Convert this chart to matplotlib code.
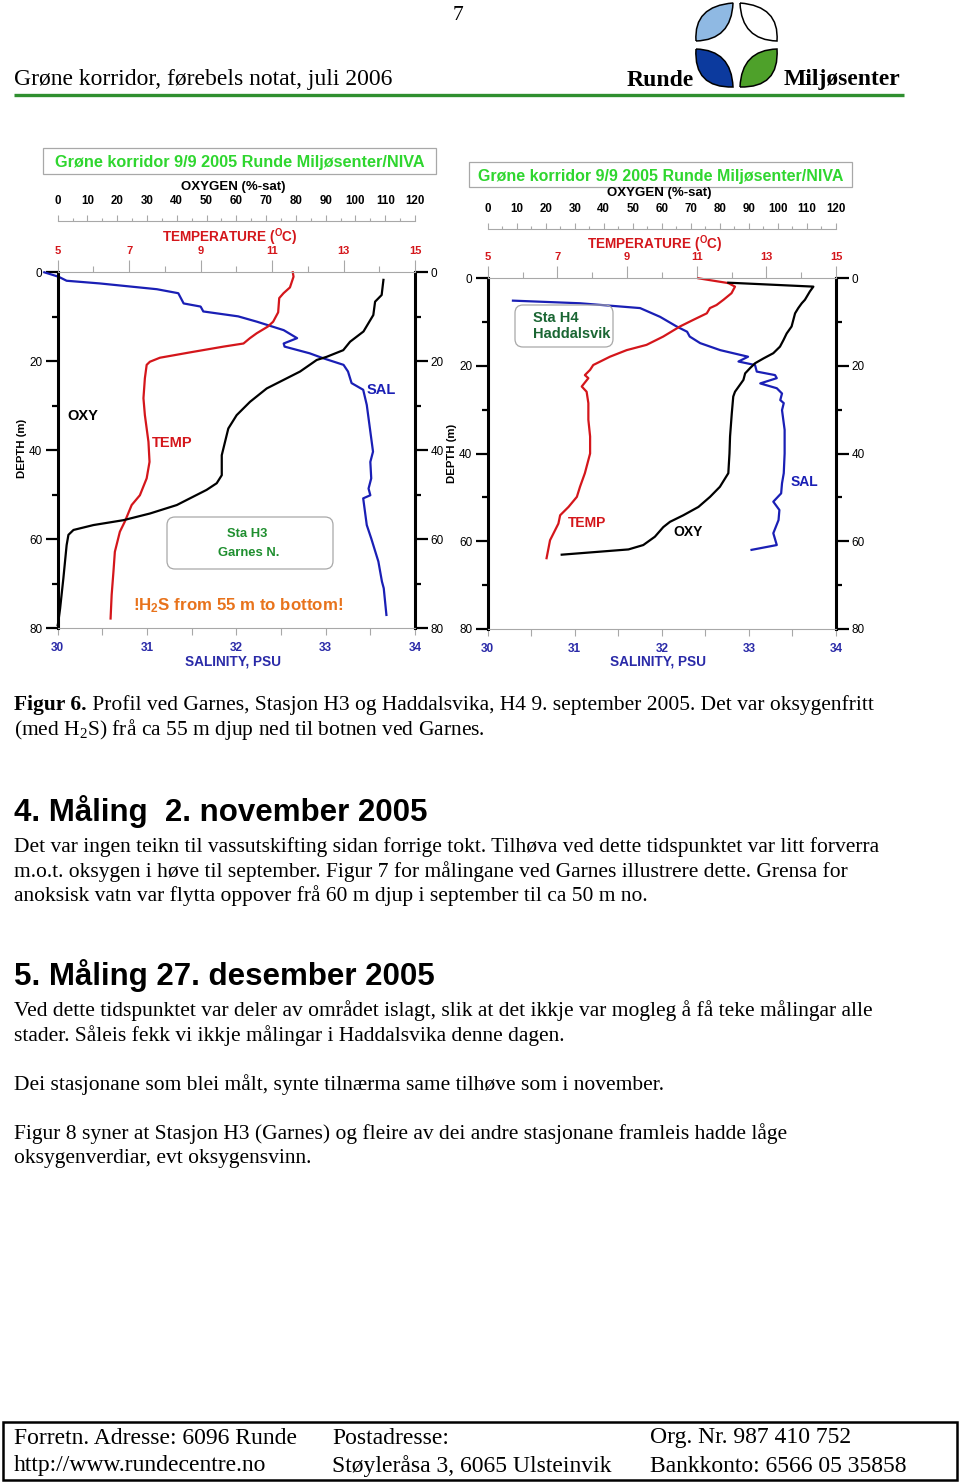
import matplotlib
matplotlib.use("Agg")
import matplotlib.pyplot as plt
from matplotlib.path import Path
from matplotlib.patches import PathPatch, FancyBboxPatch, Rectangle
from matplotlib.ticker import MultipleLocator, FixedLocator

plt.rcParams['mathtext.default'] = 'regular'
plt.rcParams['font.family'] = 'Liberation Sans'

W, H = 960, 1482
SANS = 'Liberation Sans'
SERIF = 'Liberation Serif'

RED = '#d4161b'
BLUE = '#1a1fb5'
TICKBLUE = '#2a2aa8'
GRAY = '#a8a8a8'
TITLEGREEN = '#2fd62f'
ORANGE = '#e8731c'

# ---- Sta H3 Garnes N. (9/9 2005) ----
h3_sal_depth = [0.0, 1.0, 1.9, 2.5, 3.8, 4.7, 7.0, 7.7, 8.8, 9.9, 11.1, 13.0, 14.8, 16.0, 16.7, 18.2,
                19.3, 20.8, 22.3, 24.9, 26.4, 29.8, 35.8, 40.3, 42.6, 46.3, 48.6, 50.1, 50.8, 53.8,
                56.8, 59.8, 65.0, 69.5, 71.0, 77.0]
h3_sal = [29.85, 30.01, 30.10, 30.47, 31.11, 31.35, 31.41, 31.60, 31.63, 32.02, 32.23, 32.53, 32.68,
          32.53, 32.54, 32.82, 32.97, 33.20, 33.25, 33.29, 33.42, 33.46, 33.50, 33.53, 33.50, 33.51,
          33.48, 33.50, 33.42, 33.44, 33.46, 33.51, 33.59, 33.63, 33.65, 33.68]

h3_temp_depth = [0.0, 1.0, 3.4, 4.7, 5.8, 9.0, 11.1, 12.2, 13.7, 14.8, 16.0, 16.7, 18.0, 19.2, 20.1,
                 20.8, 23.8, 28.3, 32.1, 38.1, 42.6, 46.3, 50.1, 52.3, 56.0, 58.3, 62.8, 67.3, 72.5, 77.8]
h3_temp = [11.58, 11.60, 11.50, 11.32, 11.20, 11.17, 11.03, 10.88, 10.57, 10.38, 10.20, 9.64, 8.70,
           7.86, 7.58, 7.49, 7.44, 7.40, 7.44, 7.54, 7.57, 7.49, 7.30, 7.07, 6.88, 6.74, 6.60, 6.56,
           6.51, 6.48]

h3_oxy_depth = [1.7, 5.1, 6.6, 9.6, 13.3, 15.6, 17.5, 19.0, 19.7, 22.3, 24.2, 26.1, 29.1, 32.1, 35.1,
                38.1, 41.1, 45.6, 47.4, 48.9, 50.8, 52.3, 54.2, 55.7, 56.8, 57.9, 59.0, 61.3, 68.8,
                75.6, 78.6, 79.3]
h3_oxy = [109.4, 108.8, 106.6, 106.0, 102.7, 98.2, 95.9, 90.3, 87.0, 81.4, 75.8, 70.2, 64.6, 60.1,
          57.3, 56.2, 55.1, 55.1, 53.4, 50.0, 44.4, 40.0, 31.0, 22.1, 12.0, 5.3, 3.6, 3.0, 1.9, 0.8,
          0.2, 0.0]

# ---- Sta H4 Haddalsvik (9/9 2005) ----
h4_sal_depth = [5.1, 5.7, 6.8, 8.8, 11.0, 12.2, 13.3, 14.8, 16.4, 17.9, 19.0, 19.8, 21.3, 22.1, 22.8,
                24.0, 25.1, 26.3, 27.8, 28.5, 30.1, 34.6, 40.0, 44.5, 46.8, 49.1, 51.0, 52.9, 55.2,
                58.2, 60.9, 62.0]
h4_sal = [30.29, 31.06, 31.75, 31.98, 32.17, 32.29, 32.32, 32.44, 32.67, 32.99, 32.88, 33.07, 33.09,
          33.30, 33.32, 33.13, 33.32, 33.38, 33.36, 33.40, 33.38, 33.41, 33.41, 33.40, 33.38, 33.37,
          33.28, 33.35, 33.34, 33.28, 33.32, 33.03]

h4_temp_depth = [0.0, 1.1, 1.9, 3.4, 4.9, 6.1, 6.8, 8.0, 9.5, 11.0, 13.3, 15.2, 16.4, 17.9, 19.8, 20.9,
                 22.1, 22.8, 24.7, 25.9, 28.5, 32.3, 36.1, 40.0, 44.5, 47.6, 49.9, 52.2, 54.1, 56.0,
                 59.8, 63.9]
h4_temp = [11.05, 11.91, 12.10, 12.00, 11.77, 11.57, 11.38, 11.29, 10.90, 10.52, 10.04, 9.56, 8.99,
           8.51, 8.03, 7.94, 7.79, 7.89, 7.70, 7.84, 7.89, 7.89, 7.94, 7.94, 7.79, 7.65, 7.56, 7.32,
           7.08, 7.03, 6.79, 6.69]

h4_oxy_depth = [1.0, 1.9, 3.0, 4.9, 5.7, 6.8, 8.0, 11.0, 12.6, 14.1, 15.6, 17.1, 18.3, 19.4, 20.5,
                21.7, 23.2, 25.9, 27.0, 30.8, 36.1, 40.0, 44.5, 47.6, 49.9, 52.2, 54.1, 55.6, 56.8,
                59.0, 60.9, 61.9, 63.1]
h4_oxy = [82.9, 112.2, 111.0, 109.3, 108.2, 107.0, 105.9, 104.7, 103.0, 101.9, 100.7, 98.4, 95.0,
          92.1, 90.4, 88.7, 88.1, 85.2, 84.6, 84.1, 83.5, 83.3, 82.9, 80.0, 76.6, 72.6, 67.4, 62.8,
          60.5, 57.6, 53.6, 48.5, 25.5]

temp_ticks = [5, 7, 9, 11, 13, 15]
chart_title = 'Grøne korridor 9/9 2005 Runde Miljøsenter/NIVA'

body_lines = [
    (847, 'Det var ingen teikn til vassutskifting sidan forrige tokt. Tilhøva ved dette tidspunktet var litt forverra'),
    (872, 'm.o.t. oksygen i høve til september. Figur 7 for målingane ved Garnes illustrere dette. Grensa for'),
    (896, 'anoksisk vatn var flytta oppover frå 60 m djup i september til ca 50 m no.'),
    (1011, 'Ved dette tidspunktet var deler av området islagt, slik at det ikkje var mogleg å få teke målingar alle'),
    (1036, 'stader. Såleis fekk vi ikkje målingar i Haddalsvika denne dagen.'),
    (1085, 'Dei stasjonane som blei målt, synte tilnærma same tilhøve som i november.'),
    (1134, 'Figur 8 syner at Stasjon H3 (Garnes) og fleire av dei andre stasjonane framleis hadde låge'),
    (1159, 'oksygenverdiar, evt oksygensvinn.'),
]
headings = [(811, '4. Måling  2. november 2005'), (976, '5. Måling 27. desember 2005')]
footer = [
    (14, 'Forretn. Adresse: 6096 Runde', 'http://www.rundecentre.no'),
    (332, 'Postadresse:', 'Støyleråsa 3, 6065 Ulsteinvik'),
    (650, 'Org. Nr. 987 410 752', 'Bankkonto: 6566 05 35858'),
]

BODY = 15.5

fig = plt.figure(figsize=(W / 100, H / 100), dpi=100)
page = fig.add_axes([0, 0, 1, 1], zorder=10)
page.set_xlim(0, W)
page.set_ylim(H, 0)
page.axis('off')
page.patch.set_visible(False)


def profile(x0, y0, x1, y1, oxy_gap, sal_d, sal, tmp_d, tmp, oxy_d, oxy):
    ax = fig.add_axes([x0 / W, 1 - y1 / H, (x1 - x0) / W, (y1 - y0) / H])
    ax.patch.set_visible(False)
    ax.set_xlim(30, 34)
    ax.set_ylim(80, 0)
    axt = ax.twiny()
    axt.set_xlim(5, 15)
    axo = ax.twiny()
    axo.set_xlim(0, 120)

    ax.plot(sal, sal_d, color=BLUE, lw=1.6, clip_on=False)
    axt.plot(tmp, tmp_d, color=RED, lw=1.6, clip_on=False)
    axo.plot(oxy, oxy_d, color='black', lw=1.6, clip_on=False)

    for a in (ax, axt, axo):
        for s in a.spines.values():
            s.set_visible(False)
    for side in ('left', 'right'):
        ax.spines[side].set_visible(True)
        ax.spines[side].set_linewidth(2.2)
    ax.spines['bottom'].set_visible(True)
    ax.spines['bottom'].set_color(GRAY)
    ax.spines['bottom'].set_linewidth(0.8)
    axt.spines['top'].set_visible(True)
    axt.spines['top'].set_color(GRAY)
    axt.spines['top'].set_linewidth(0.8)
    axo.spines['top'].set_visible(True)
    axo.spines['top'].set_color(GRAY)
    axo.spines['top'].set_linewidth(0.8)
    axo.spines['top'].set_position(('outward', oxy_gap * 0.72))

    # depth
    ax.yaxis.set_major_locator(MultipleLocator(20))
    ax.yaxis.set_minor_locator(MultipleLocator(10))
    ax.tick_params(axis='y', which='both', left=True, right=True, labelleft=True,
                   labelright=True, direction='out', width=1.6, labelsize=8.5, pad=2)
    ax.tick_params(axis='y', which='major', length=9)
    ax.tick_params(axis='y', which='minor', length=4.5)

    # salinity
    ax.xaxis.set_major_locator(MultipleLocator(1))
    ax.xaxis.set_minor_locator(MultipleLocator(0.5))
    ax.tick_params(axis='x', which='both', direction='out', length=5, width=0.8, color=GRAY,
                   labelsize=8.5, labelcolor=TICKBLUE, pad=5)
    plt.setp(ax.get_xticklabels(), fontweight='bold')

    # temperature
    axt.xaxis.set_major_locator(FixedLocator(temp_ticks))
    axt.xaxis.set_minor_locator(MultipleLocator(1))
    axt.tick_params(axis='x', which='both', top=True, labeltop=True, bottom=False,
                    labelbottom=False, direction='out', width=0.8, color=GRAY,
                    labelsize=8, labelcolor=RED, pad=3)
    axt.tick_params(axis='x', which='major', length=8.6)
    axt.tick_params(axis='x', which='minor', length=4.3)
    plt.setp(axt.get_xticklabels(), fontweight='bold')

    # oxygen
    axo.xaxis.set_major_locator(MultipleLocator(10))
    axo.xaxis.set_minor_locator(MultipleLocator(5))
    axo.tick_params(axis='x', which='both', top=True, labeltop=True, bottom=False,
                    labelbottom=False, direction='out', width=0.8, color=GRAY,
                    labelsize=8.3, labelcolor='black', pad=6)
    axo.tick_params(axis='x', which='major', length=4.3)
    axo.tick_params(axis='x', which='minor', length=2.2)
    plt.setp(axo.get_xticklabels(), fontweight='bold')
    return ax


profile(57.7, 272.3, 415, 628.3, 51.3, h3_sal_depth, h3_sal, h3_temp_depth, h3_temp,
        h3_oxy_depth, h3_oxy)
profile(487.7, 278.3, 836, 628.7, 49.3, h4_sal_depth, h4_sal, h4_temp_depth, h4_temp,
        h4_oxy_depth, h4_oxy)


def txt(x, y, s, **kw):
    kw.setdefault('ha', 'center')
    kw.setdefault('va', 'center')
    kw.setdefault('family', SANS)
    return page.text(x, y, s, **kw)


def box(x0, y0, x1, y1, rounded=False, ec=GRAY):
    style = 'round,pad=0,rounding_size=8' if rounded else 'square,pad=0'
    page.add_patch(FancyBboxPatch((x0, y0), x1 - x0, y1 - y0, boxstyle=style,
                                  fc='none', ec=ec, lw=0.9))


# chart annotations, left (H3)
box(43, 148, 436, 174)
txt(239.5, 162, chart_title, color=TITLEGREEN, weight='bold', size=11.7)
txt(233, 187, 'OXYGEN (%-sat)', weight='bold', size=9.5)
txt(230, 237, 'TEMPERATURE ($^{O}$C)', weight='bold', size=9.8, color=RED)
txt(233, 661, 'SALINITY, PSU', weight='bold', size=9.8, color=TICKBLUE)
txt(22, 448, 'DEPTH (m)', weight='bold', size=8.2, rotation=90)
txt(83, 416, 'OXY', weight='bold', size=10.5)
txt(172, 443, 'TEMP', weight='bold', size=10.5, color=RED)
txt(381, 390, 'SAL', weight='bold', size=10.5, color=BLUE)
box(167, 517, 333, 569, rounded=True)
txt(247, 534, 'Sta H3', weight='bold', size=9.4, color='#1f8f2f')
txt(249, 553, 'Garnes N.', weight='bold', size=9.4, color='#1f8f2f')
txt(238, 606, '!H$_2$S from 55 m to bottom!', weight='bold', size=12.2, color=ORANGE)

# chart annotations, right (H4)
box(469, 162, 852, 187)
txt(660.5, 176, chart_title, color=TITLEGREEN, weight='bold', size=11.5)
txt(659, 193, 'OXYGEN (%-sat)', weight='bold', size=9.5)
txt(655, 244, 'TEMPERATURE ($^{O}$C)', weight='bold', size=9.8, color=RED)
txt(658, 661, 'SALINITY, PSU', weight='bold', size=9.8, color=TICKBLUE)
txt(452, 453, 'DEPTH (m)', weight='bold', size=8.2, rotation=90)
txt(587, 523, 'TEMP', weight='bold', size=10, color=RED)
txt(688, 532, 'OXY', weight='bold', size=10)
txt(804, 482, 'SAL', weight='bold', size=10, color=BLUE)
box(515, 305, 613, 347, rounded=True)
txt(533, 318, 'Sta H4', weight='bold', size=10.5, color='#1a6633', ha='left')
txt(533, 334, 'Haddalsvik', weight='bold', size=10.5, color='#1a6633', ha='left')

# page header
txt(458, 16, '7', family=SERIF, size=15.5)
txt(14, 80, 'Grøne korridor, førebels notat, juli 2006', family=SERIF, size=17, ha='left')
txt(660, 80, 'Runde', family=SERIF, weight='bold', size=17)
txt(842, 80, 'Miljøsenter', family=SERIF, weight='bold', size=17)
page.plot([14, 904], [95, 95], color='#2f8f2f', lw=2.4, solid_capstyle='butt')


def leaf(tip_a, tip_b, out_pt, in_pt, fc):
    mx, my = (tip_a[0] + tip_b[0]) / 2, (tip_a[1] + tip_b[1]) / 2
    c_out = (2 * out_pt[0] - mx, 2 * out_pt[1] - my)
    c_in = (2 * in_pt[0] - mx, 2 * in_pt[1] - my)
    verts = [tip_a, c_out, tip_b, c_in, tip_a]
    codes = [Path.MOVETO, Path.CURVE3, Path.CURVE3, Path.CURVE3, Path.CURVE3]
    page.add_patch(PathPatch(Path(verts, codes), fc=fc, ec='black', lw=1.1))


leaf((696, 41), (733, 3), (704, 14), (723, 31), '#8fb9e3')
leaf((740, 3), (777, 41), (769, 14), (750, 31), 'white')
leaf((696, 49), (733, 87), (704, 78), (723, 59), '#0c3a9e')
leaf((740, 87), (777, 49), (769, 78), (750, 59), '#4ea12a')

# caption
cap = txt(14, 705, 'Figur 6.', family=SERIF, weight='bold', size=BODY, ha='left')
page.annotate(' Profil ved Garnes, Stasjon H3 og Haddalsvika, H4 9. september 2005. Det var oksygenfritt',
              xy=(1, 0), xycoords=cap, ha='left', va='bottom', family=SERIF, size=BODY)
txt(14, 730, '(med H$_2$S) frå ca 55 m djup ned til botnen ved Garnes.', family=SERIF, size=BODY,
    ha='left')

for y, s in headings:
    txt(14, y, s, weight='bold', size=22.5, ha='left')
for y, s in body_lines:
    txt(14, y, s, family=SERIF, size=BODY, ha='left')

# footer
page.add_patch(Rectangle((3, 1422), 954, 58, fc='none', ec='black', lw=1.8))
for x, a, b in footer:
    txt(x, 1438, a, family=SERIF, size=17, ha='left')
    txt(x, 1466, b, family=SERIF, size=17, ha='left')

fig.savefig('out.png', dpi=100)
